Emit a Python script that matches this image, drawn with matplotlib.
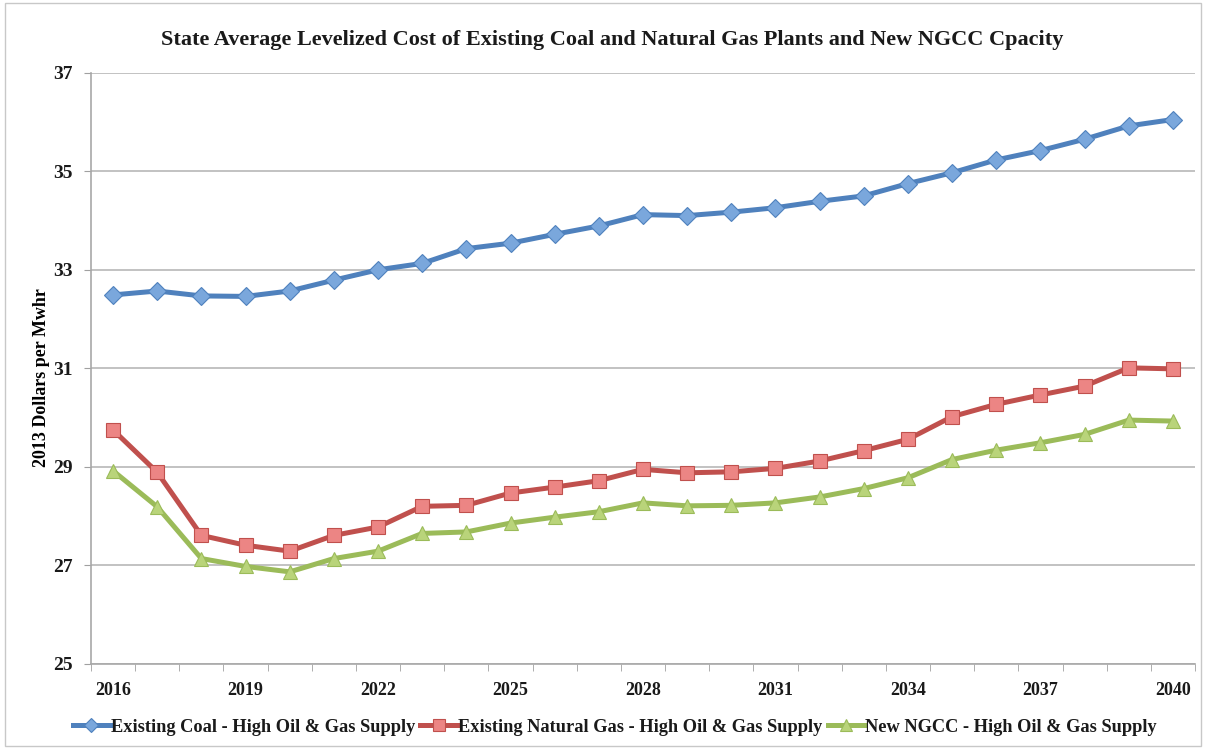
import matplotlib
matplotlib.use("Agg")
import matplotlib.pyplot as plt
from matplotlib.patches import Rectangle

years = list(range(2016, 2041))
coal = [32.49, 32.57, 32.47, 32.46, 32.57, 32.79, 33.00, 33.13, 33.43, 33.54,
        33.72, 33.89, 34.12, 34.10, 34.17, 34.26, 34.39, 34.50, 34.75, 34.97,
        35.23, 35.42, 35.65, 35.92, 36.05]
natgas = [29.75, 28.89, 27.61, 27.41, 27.29, 27.61, 27.78, 28.20, 28.22, 28.47,
          28.59, 28.72, 28.95, 28.88, 28.90, 28.97, 29.12, 29.33, 29.56, 30.02,
          30.27, 30.46, 30.64, 31.01, 30.99]
ngcc = [28.92, 28.19, 27.14, 26.98, 26.87, 27.14, 27.29, 27.65, 27.68, 27.86,
        27.98, 28.09, 28.27, 28.21, 28.22, 28.27, 28.39, 28.56, 28.78, 29.15,
        29.34, 29.49, 29.66, 29.95, 29.93]
labels = ["Existing Coal - High Oil & Gas Supply",
          "Existing Natural Gas - High Oil & Gas Supply",
          "New NGCC - High Oil & Gas Supply"]
yticks = [25, 27, 29, 31, 33, 35, 37]
title = "State Average Levelized Cost of Existing Coal and Natural Gas Plants and New NGCC Cpacity"
ylabel = "2013 Dollars per Mwhr"

serif = ["Liberation Serif", "DejaVu Serif"]
plt.rcParams['font.family'] = serif
plt.rcParams['text.color'] = "#1a1a1a"

fig = plt.figure(figsize=(12.06, 7.49), dpi=100)
ax = fig.add_axes([91/1206, 1-664/749, (1195-91)/1206, (664-72.7)/749])

x = list(range(len(years)))
styles = [
    (coal, "#4F81BD", "#7AA7DC", "D", 9),
    (natgas, "#C0504D", "#EC8584", "s", 10),
    (ngcc, "#9BBB59", "#B9D47A", "^", 10),
]
handles = []
for (vals, lc, mc, mk, ms), lab in zip(styles, labels):
    h, = ax.plot(x, vals, color=lc, lw=3.6, marker=mk, ms=ms, mfc=mc, mec=lc,
                 mew=0.8, label=lab, zorder=3)
    handles.append(h)

ax.set_xlim(-0.5, len(years) - 0.5)
ax.set_ylim(25, 37)
ax.set_yticks(yticks)
ax.set_yticklabels([str(v) for v in yticks], fontsize=14, fontweight="bold", color="#1a1a1a")
ax.grid(axis="y", color="#B8B8B8", lw=1.2)
ax.set_axisbelow(True)

major = [i for i, y in enumerate(years) if (y - 2016) % 3 == 0]
ax.set_xticks(major)
ax.set_xticklabels([str(years[i]) for i in major], fontsize=13, fontweight="bold", color="#1a1a1a")
ax.set_xticks([i - 0.5 for i in range(len(years) + 1)], minor=True)
ax.tick_params(axis="x", which="major", length=0, pad=13)
ax.tick_params(axis="x", which="minor", length=5, color="#A0A0A0", direction="out")
ax.tick_params(axis="y", length=5, color="#A0A0A0", pad=8)

for s in ["top", "right"]:
    ax.spines[s].set_visible(False)
for s in ["left", "bottom"]:
    ax.spines[s].set_color("#A8A8A8")
    ax.spines[s].set_linewidth(1.2)

ax.set_ylabel(ylabel, fontsize=13, fontweight="bold", labelpad=6)
ax.yaxis.set_label_coords(-0.037, 0.485)
fig.text(612/1206, 1 - 40/749, title, ha="center", va="center", fontsize=16, fontweight="bold")

leg = fig.legend(handles=handles, loc="center", bbox_to_anchor=(0.510, 1 - 727/749), ncol=3,
                 frameon=False, prop={"family": serif, "size": 13.2, "weight": "bold"},
                 handlelength=2.0, handletextpad=0.05, columnspacing=0.3,
                 borderaxespad=0, markerscale=0.8)

fig.patches.append(Rectangle((0.004, 0.004), 0.992, 0.992, transform=fig.transFigure,
                             fill=False, ec="#C8C8C8", lw=1))

fig.savefig("out.png", dpi=100)
